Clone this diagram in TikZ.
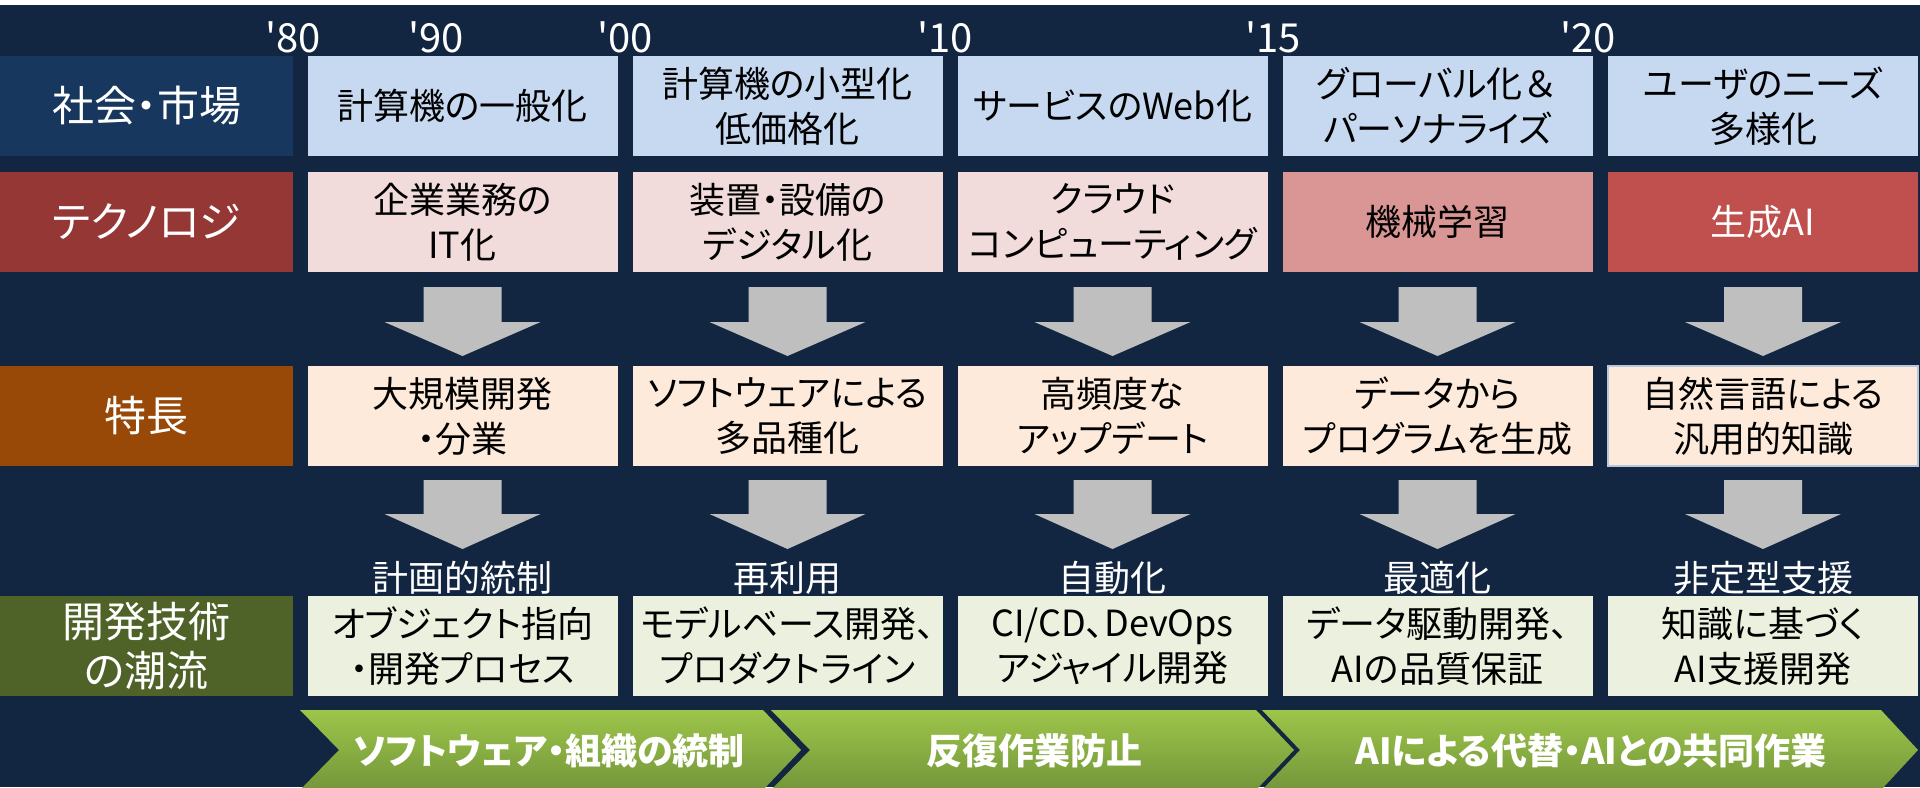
\documentclass[tikz,border=0pt]{standalone}
\usepackage{fontspec}
\newfontfamily\jpfont{Noto Sans CJK JP}[RawFeature=+palt]
\newfontfamily\yrfont{Noto Sans CJK JP}
\definecolor{bgnavy}{HTML}{132641}
\definecolor{labA}{HTML}{17375E}
\definecolor{labB}{HTML}{953735}
\definecolor{labC}{HTML}{984807}
\definecolor{labD}{HTML}{4F6228}
\definecolor{rowA}{HTML}{C6D9F1}
\definecolor{rowB}{HTML}{F2DCDB}
\definecolor{rowBml}{HTML}{D99694}
\definecolor{rowBai}{HTML}{C0504D}
\definecolor{rowC}{HTML}{FDEADA}
\definecolor{rowD}{HTML}{EBF1DE}
\definecolor{arrowgray}{HTML}{BFBFBF}
\definecolor{chevtop}{HTML}{9DC54A}
\definecolor{chevbot}{HTML}{74963A}
\begin{document}
\begin{tikzpicture}[x=0.5pt,y=-0.5pt,
  cell/.style={rectangle, inner sep=0pt, minimum width=155pt, minimum height=50pt, align=center, text=black, font=\jpfont\fontsize{18}{22.5}\selectfont},
  lab/.style={rectangle, inner sep=0pt, minimum width=146.5pt, minimum height=50pt, align=center, text=white, font=\jpfont\fontsize{21}{24.5}\selectfont},
  yr/.style={anchor=base, text=white, inner sep=0pt, font=\yrfont\fontsize{20}{24}\selectfont},
  hdr/.style={text=white, inner sep=0pt, font=\jpfont\fontsize{18}{22}\selectfont},
  blockarrow/.style={fill=arrowgray},
  chev/.style={top color=chevtop, bottom color=chevbot},
  chevtext/.style={text=white, inner sep=0pt, font=\jpfont\bfseries\fontsize{18}{22}\selectfont}
]
\useasboundingbox (0,0) rectangle (1920,787);
\fill[white] (0,0) rectangle (1920,5);
\fill[bgnavy] (0,5) rectangle (1920,787);

% years
\node[yr] (y80) at (293,52) {'80};
\node[yr] (y90) at (436,52) {'90};
\node[yr] (y00) at (625,52) {'00};
\node[yr] (y10) at (945,52) {'10};
\node[yr] (y15) at (1273,52) {'15};
\node[yr] (y20) at (1588,52) {'20};

% row labels
\node[lab, fill=labA] (lsoc) at (146.5,106) {社会・市場};
\node[lab, fill=labB] (ltech) at (146.5,222) {テクノロジ};
\node[lab, fill=labC] (lfeat) at (146.5,416) {特長};
\node[lab, fill=labD] (ldev) at (146.5,646) {開発技術\\の潮流};

% row 1
\node[cell, fill=rowA] (s1) at (462.5,106) {計算機の一般化};
\node[cell, fill=rowA] (s2) at (787.5,106) {計算機の小型化\\低価格化};
\node[cell, fill=rowA] (s3) at (1112.5,106) {サービスのWeb化};
\node[cell, fill=rowA] (s4) at (1437.5,106) {グローバル化{\yrfont ＆}\\パーソナライズ};
\node[cell, fill=rowA] (s5) at (1763,106) {ユーザのニーズ\\多様化};

% row 2
\node[cell, fill=rowB] (t1) at (462.5,222) {企業業務の\\IT化};
\node[cell, fill=rowB] (t2) at (787.5,222) {装置・設備の\\デジタル化};
\node[cell, fill=rowB] (t3) at (1112.5,222) {クラウド\\コンピューティング};
\node[cell, fill=rowBml] (t4) at (1437.5,222) {機械学習};
\node[cell, fill=rowBai, text=white] (t5) at (1763,222) {生成AI};

% row 3
\node[cell, fill=rowC] (f1) at (462.5,416) {大規模開発\\・分業};
\node[cell, fill=rowC] (f2) at (787.5,416) {ソフトウェアによる\\多品種化};
\node[cell, fill=rowC] (f3) at (1112.5,416) {高頻度な\\アップデート};
\node[cell, fill=rowC] (f4) at (1437.5,416) {データから\\プログラムを生成};
\node[cell, fill=rowC, draw=rowA!80!gray, line width=0.6pt] (f5) at (1763,416) {自然言語による\\汎用的知識};

% headers
\node[hdr] (h1) at (462.5,578) {計画的統制};
\node[hdr] (h2) at (787.5,578) {再利用};
\node[hdr] (h3) at (1112.5,578) {自動化};
\node[hdr] (h4) at (1437.5,578) {最適化};
\node[hdr] (h5) at (1763,578) {非定型支援};

% row 4
\node[cell, fill=rowD] (d1) at (462.5,646) {オブジェクト指向\\・開発プロセス};
\node[cell, fill=rowD] (d2) at (787.5,646) {モデルベース開発、\\プロダクトライン};
\node[cell, fill=rowD] (d3) at (1112.5,646) {CI/CD、DevOps\\アジャイル開発};
\node[cell, fill=rowD] (d4) at (1437.5,646) {データ駆動開発、\\AIの品質保証};
\node[cell, fill=rowD] (d5) at (1763,646) {知識に基づく\\AI支援開発};

% block arrows
\foreach \cx in {462.5,787.5,1112.5,1437.5,1763}{
  \fill[blockarrow] (\cx-39,287) -- (\cx+39,287) -- (\cx+39,322) -- (\cx+78,322) -- (\cx,356) -- (\cx-78,322) -- (\cx-39,322) -- cycle;
  \fill[blockarrow] (\cx-39,480) -- (\cx+39,480) -- (\cx+39,514) -- (\cx+78,514) -- (\cx,549) -- (\cx-78,514) -- (\cx-39,514) -- cycle;
}

% chevrons
\path[chev] (300,710) -- (763,710) -- (801,750) -- (763,790) -- (300,790) -- (339,750) -- cycle;
\path[chev] (771,710) -- (1256,710) -- (1294,750) -- (1256,790) -- (771,790) -- (810,750) -- cycle;
\path[chev] (1262,710) -- (1881,710) -- (1918,750) -- (1881,790) -- (1262,790) -- (1300,750) -- cycle;
\node[chevtext] (c1) at (549,751) {ソフトウェア・組織の統制};
\node[chevtext] (c2) at (1034,751) {反復作業防止};
\node[chevtext] (c3) at (1591,751) {AIによる代替・AIとの共同作業};
\end{tikzpicture}
\end{document}
